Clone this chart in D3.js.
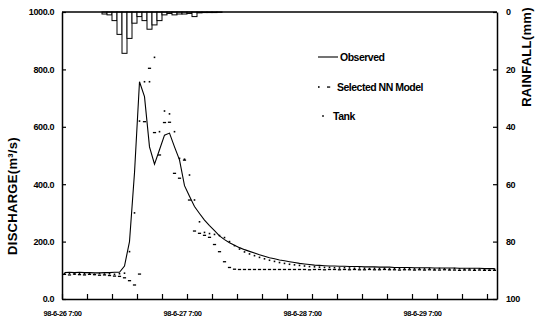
<!DOCTYPE html>
<html>
<head>
<meta charset="utf-8">
<style>
  body { margin: 0; background: #fff; }
  svg { display: block; }
  text { font-family: "Liberation Sans", Arial, sans-serif; fill: #000; }
</style>
</head>
<body>
<div id="chart"></div>
<script src="https://cdn.jsdelivr.net/npm/d3@7"></script>
<script>
// hourly values, hour 0 = 98-6-26 7:00
const observed = [
  92, 93, 92, 93, 92, 92, 91, 91, 92, 92, 93, 93,
  115, 200, 440, 757, 705, 530, 470, 520, 571, 578, 530, 485,
  395, 358, 322, 298, 275, 256, 238, 220, 207, 196, 187, 179,
  172, 166, 160, 154, 149, 144, 140, 136, 133, 130, 127, 124,
  122, 120, 118, 117, 116, 115, 115, 114, 114, 113, 113, 113,
  112, 112, 112, 111, 111, 111, 110, 110, 110, 110, 109, 109,
  109, 109, 108, 108, 108, 108, 108, 107, 107, 107, 107, 107, 106, 106, 106
];

const nnModel = [
  86, 84, 87, 85, 84, 86, 85, 83, 84, 82, 80, 79,
  74, 64, 49, 87, 618, 804, 580, 502, 615, 616, 438, 421,
  484, 345, 237, 229, 222, 215, 190, 165, 130, 110, 104, 103,
  103, 103, 103, 103, 103, 103, 103, 103, 103, 103, 103, 103,
  103, 102, 103, 103, 102, 103, 103, 102, 103, 102, 103, 102,
  102, 103, 102, 102, 103, 102, 102, 101, 102, 102, 101, 102,
  101, 102, 101, 101, 102, 101, 101, 100, 101, 101, 100, 101, 100, 100, 100
];

const tankModel = [
  88, 90, 87, 89, 88, 90, 86, 89, 87, 88, 86, 88,
  90, 165, 300, 620, 757, 757, 842, 583, 655, 645, 583, 490,
  487, 432, 345, 269, 232, 228, 225, 221, 214, 200, 186, 174,
  164, 157, 151, 145, 140, 135, 131, 127, 124, 121, 119, 117,
  115, 113, 112, 111, 110, 110, 109, 108, 109, 108, 107, 108,
  107, 106, 107, 106, 107, 105, 106, 106, 105, 107, 105, 106,
  105, 106, 104, 106, 105, 104, 106, 105, 104, 105, 104, 105, 104, 105, 104
];

const rainfall = [
  0, 0, 0, 0, 0, 0, 0, 0, 0.7, 1.0, 3.0, 7.8,
  14.4, 9.2, 3.9, 1.6, 3.0, 6.0, 4.5, 3.0, 1.0, 0.5, 1.0, 0.7,
  0.7, 0.5, 1.6, 0.3, 0.2, 0.2, 0.2, 0.1
];

const dischargeTicks = [0, 200, 400, 600, 800, 1000];
const rainTicks = [0, 20, 40, 60, 80, 100];
const dateLabels = ['98-6-26 7:00', '98-6-27 7:00', '98-6-28 7:00', '98-6-29 7:00'];
const dateLabelHours = [0, 24, 48, 72];
const minorTickHours = d3.range(0, 86, 5);

const width = 537;
const height = 322;
const margin = { top: 12, right: 40, bottom: 23, left: 62 };

const svg = d3.select('#chart')
  .append('svg')
  .attr('width', width)
  .attr('height', height);

const x = d3.scaleLinear()
  .domain([0, observed.length])
  .range([margin.left, width - margin.right]);

const yQ = d3.scaleLinear()
  .domain([0, 1000])
  .range([height - margin.bottom, margin.top]);

const yR = d3.scaleLinear()
  .domain([0, 100])
  .range([margin.top, height - margin.bottom]);

// rainfall bars hanging from the top
svg.append('g')
  .selectAll('rect')
  .data(rainfall.map((v, i) => ({ v, i })).filter(d => d.v > 0))
  .join('rect')
  .attr('x', d => x(d.i))
  .attr('y', yR(0))
  .attr('width', x(1) - x(0))
  .attr('height', d => yR(d.v) - yR(0))
  .attr('fill', '#fff')
  .attr('stroke', '#000')
  .attr('stroke-width', 1);

// model series: marker only
svg.append('g')
  .selectAll('rect')
  .data(tankModel)
  .join('rect')
  .attr('x', (d, i) => x(i + 0.5) - 0.8)
  .attr('y', d => yQ(d) - 0.8)
  .attr('width', 1.6)
  .attr('height', 1.6)
  .attr('fill', '#000');

svg.append('g')
  .selectAll('rect')
  .data(nnModel)
  .join('rect')
  .attr('x', (d, i) => x(i + 0.5) - 1.6)
  .attr('y', d => yQ(d) - 0.6)
  .attr('width', 3.2)
  .attr('height', 1.3)
  .attr('fill', '#000');

const line = d3.line()
  .x((d, i) => x(i + 0.5))
  .y(d => yQ(d));

svg.append('path')
  .datum(observed)
  .attr('fill', 'none')
  .attr('stroke', '#000')
  .attr('stroke-width', 1.1)
  .attr('d', line);

// axes
const left = svg.append('g')
  .attr('transform', `translate(${margin.left},0)`)
  .call(d3.axisLeft(yQ).tickValues(dischargeTicks).tickSize(-4).tickSizeOuter(0)
    .tickPadding(8).tickFormat(d3.format('.1f')));

const right = svg.append('g')
  .attr('transform', `translate(${width - margin.right},0)`)
  .call(d3.axisRight(yR).tickValues(rainTicks).tickSize(-4).tickSizeOuter(0).tickPadding(9));

const bottom = svg.append('g')
  .attr('transform', `translate(0,${height - margin.bottom})`)
  .call(d3.axisBottom(x).tickValues(minorTickHours).tickSize(-5).tickSizeOuter(0).tickFormat(''));

const dates = svg.append('g')
  .attr('transform', `translate(0,${height - margin.bottom})`)
  .call(d3.axisBottom(x).tickValues(dateLabelHours).tickSize(0).tickPadding(12)
    .tickFormat((d, i) => dateLabels[i]));
dates.select('.domain').remove();

svg.append('line')
  .attr('x1', margin.left)
  .attr('x2', width - margin.right)
  .attr('y1', margin.top)
  .attr('y2', margin.top)
  .attr('stroke', '#000')
  .attr('stroke-width', 1.5);

svg.selectAll('.domain').attr('stroke', '#000').attr('stroke-width', 1.5);
svg.selectAll('.tick line').attr('stroke', '#000').attr('stroke-width', 1.2);

left.selectAll('text').style('font-size', '9px').style('font-weight', 'bold').style('letter-spacing', '-0.4px');
right.selectAll('text').style('font-size', '9px').style('font-weight', 'bold').style('letter-spacing', '-0.4px');
dates.selectAll('text').style('font-size', '7.5px').style('font-weight', 'bold').style('letter-spacing', '-0.4px');

// axis titles
svg.append('text')
  .attr('transform', 'translate(17,196) rotate(-90)')
  .attr('text-anchor', 'middle')
  .style('font-size', '13px')
  .style('font-weight', 'bold')
  .style('letter-spacing', '0.3px')
  .text('DISCHARGE(m³/s)');

svg.append('text')
  .attr('transform', 'translate(531,57) rotate(-90)')
  .attr('text-anchor', 'middle')
  .style('font-size', '13px')
  .style('font-weight', 'bold')
  .style('letter-spacing', '0.3px')
  .text('RAINFALL(mm)');

// legend
const legend = svg.append('g').attr('transform', 'translate(318,0)');

legend.append('line')
  .attr('x1', 0).attr('x2', 20).attr('y1', 57).attr('y2', 57)
  .attr('stroke', '#000').attr('stroke-width', 1.1);
legend.append('rect')
  .attr('x', 0).attr('y', 86.2).attr('width', 1.6).attr('height', 1.6).attr('fill', '#000');
legend.append('rect')
  .attr('x', 9).attr('y', 86.4).attr('width', 3.2).attr('height', 1.3).attr('fill', '#000');
legend.append('rect')
  .attr('x', 4.2).attr('y', 115.2).attr('width', 1.6).attr('height', 1.6).attr('fill', '#000');

legend.selectAll('text.lbl')
  .data(['Observed', 'Selected NN Model', 'Tank'])
  .join('text')
  .attr('class', 'lbl')
  .attr('x', (d, i) => i === 2 ? 15 : (i === 1 ? 19 : 22))
  .attr('y', (d, i) => [57, 87, 116][i])
  .attr('dy', '0.35em')
  .style('font-size', '10.5px')
  .style('font-weight', 'bold')
  .style('letter-spacing', '-0.5px')
  .text(d => d);
</script>
</body>
</html>
